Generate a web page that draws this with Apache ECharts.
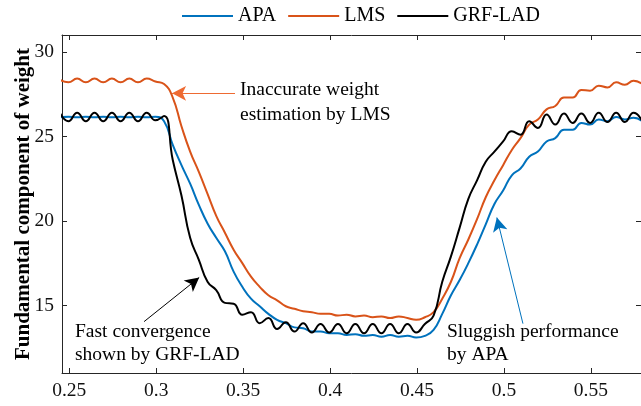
<!DOCTYPE html>
<html>
<head>
<meta charset="utf-8">
<script src="https://cdn.jsdelivr.net/npm/echarts@6/dist/echarts.min.js"></script>
<style>
  html, body { margin: 0; padding: 0; background: #fff; }
  #chart { width: 641px; height: 406px; }
</style>
</head>
<body>
<div id="chart"></div>
<script>
// x samples (s)
const xs = [
  0.2445, 0.2495, 0.2545, 0.2595, 0.2645, 0.2695, 0.2745, 0.2795, 0.2845, 0.2895,
  0.2945, 0.2995, 0.3045, 0.3095, 0.3145, 0.3195, 0.3245, 0.3295, 0.3345, 0.3395,
  0.3445, 0.3495, 0.3545, 0.3595, 0.3645, 0.3695, 0.3745, 0.3795, 0.3845, 0.3895,
  0.3945, 0.3995, 0.4045, 0.4095, 0.4145, 0.4195, 0.4245, 0.4295, 0.4345, 0.4395,
  0.4445, 0.4495, 0.4545, 0.4595, 0.4645, 0.4695, 0.4745, 0.4795, 0.4845, 0.4895,
  0.4945, 0.4995, 0.5045, 0.5095, 0.5145, 0.5195, 0.5245, 0.5295, 0.5345, 0.5395,
  0.5445, 0.5495, 0.5545, 0.5595, 0.5645, 0.5695, 0.5745, 0.5795
]

const apa = [
  26.13, 26.17, 26.13, 26.17, 26.13, 26.17, 26.13, 26.17, 26.13, 26.17,
  26.13, 26.16, 25.9, 24.5, 23.3, 22.2, 20.95, 19.85, 19.0, 18.2,
  17.0, 16.1, 15.4, 14.95, 14.5, 14.15, 13.95, 13.7, 13.65, 13.45,
  13.45, 13.35, 13.35, 13.25, 13.3, 13.2, 13.25, 13.15, 13.25, 13.15,
  13.2, 13.1, 13.2, 13.55, 14.5, 15.6, 16.5, 17.5, 18.6, 19.8,
  21.0, 21.8, 22.7, 23.1, 23.8, 24.1, 24.7, 24.9, 25.4, 25.4,
  25.8, 25.7, 26.0, 25.9, 26.15, 26.0, 26.1, 25.9
]

const lms = [
  28.35, 28.2, 28.42, 28.2, 28.42, 28.2, 28.42, 28.2, 28.42, 28.2,
  28.42, 28.25, 28.1, 27.3, 25.6, 24.1, 22.9, 21.6, 20.3, 19.3,
  18.3, 17.5, 16.7, 16.1, 15.6, 15.3, 14.95, 14.8, 14.65, 14.6,
  14.5, 14.5, 14.4, 14.45, 14.35, 14.4, 14.3, 14.35, 14.25, 14.35,
  14.25, 14.15, 14.3, 14.6, 15.4, 16.4, 17.8, 18.9, 20.1, 21.4,
  22.4, 23.3, 24.2, 24.9, 25.7, 26.0, 26.6, 26.8, 27.3, 27.3,
  27.75, 27.7, 28.0, 27.9, 28.2, 28.05, 28.3, 28.1
]

const grfLad = [
  26.4, 25.9, 26.4, 25.9, 26.4, 25.9, 26.4, 25.9, 26.4, 25.9,
  26.4, 25.95, 26.2, 23.6, 21.5, 19.0, 17.7, 16.4, 15.9, 15.15,
  15.1, 14.45, 14.6, 13.95, 14.25, 13.6, 14.0, 13.45, 13.95, 13.4,
  13.9, 13.4, 13.9, 13.35, 13.9, 13.35, 13.9, 13.35, 13.9, 13.35,
  13.9, 13.4, 13.9, 14.4, 16.4, 17.9, 19.6, 21.3, 22.4, 23.5,
  24.1, 24.7, 25.3, 25.1, 25.9, 25.5, 26.3, 25.7, 26.35, 25.8,
  26.35, 25.8, 26.4, 25.85, 26.4, 25.85, 26.4, 25.9
]

const xTicks = [0.25, 0.3, 0.35, 0.4, 0.45, 0.5, 0.55]
const yTicks = [15, 20, 25, 30]

// annotation arrows: [tail, head] in data units
const lmsArrow = [[0.3453, 27.55], [0.3091, 27.55]]
const grfArrow = [[0.2930, 14.04], [0.3247, 16.65]]
const apaArrow = [[0.5109, 13.92], [0.4959, 20.2]]

const FONT = 'Liberation Serif'
const AXIS_COLOR = '#262626'

const chart = echarts.init(document.getElementById('chart'))

const pairs = (ys) => xs.map((x, i) => [x, ys[i]])

const arrow = (pts, color) => ({
  silent: true,
  symbol: ['none', 'arrow'],
  symbolSize: [11, 14],
  label: { show: false },
  lineStyle: { color: color, width: 1, type: 'solid' },
  data: [[{ coord: pts[0] }, { coord: pts[1] }]]
})

const xCommon = {
  type: 'value',
  min: 0.2458,
  max: 0.5788,
  splitLine: { show: false },
  axisLine: { show: true, lineStyle: { color: AXIS_COLOR, width: 1 } },
  axisTick: { show: true, inside: true, length: 5, customValues: xTicks, lineStyle: { color: AXIS_COLOR } }
}
const yCommon = {
  type: 'value',
  min: 11,
  max: 31,
  splitLine: { show: false },
  axisLine: { show: true, lineStyle: { color: AXIS_COLOR, width: 1 } },
  axisTick: { show: true, inside: true, length: 5, customValues: yTicks, lineStyle: { color: AXIS_COLOR } }
}

chart.setOption({
  animation: false,
  backgroundColor: '#fff',
  grid: { left: 62, right: 0, top: 35, bottom: 33, outerBoundsMode: 'none' },
  legend: {
    left: 182,
    top: 6,
    padding: 0,
    icon: 'rect',
    itemWidth: 51,
    itemHeight: 2,
    itemGap: 12,
    textStyle: { fontFamily: FONT, fontSize: 20, color: '#000' },
    data: ['APA', 'LMS', 'GRF-LAD']
  },
  xAxis: [
    Object.assign({}, xCommon, {
      position: 'bottom',
      axisLabel: {
        customValues: xTicks,
        margin: 8,
        fontFamily: FONT,
        fontSize: 19.5,
        color: '#111'
      }
    }),
    Object.assign({}, xCommon, { position: 'top', axisLabel: { show: false } })
  ],
  yAxis: [
    Object.assign({}, yCommon, {
      position: 'left',
      name: 'Fundamental component of weight',
      nameLocation: 'middle',
      nameGap: 28,
      nameMoveOverlap: false,
      nameTextStyle: { fontFamily: FONT, fontSize: 21, fontWeight: 'bold', color: '#000' },
      axisLabel: {
        customValues: yTicks,
        margin: 8,
        fontFamily: FONT,
        fontSize: 19.5,
        color: '#111'
      }
    }),
    Object.assign({}, yCommon, { position: 'right', axisLabel: { show: false } })
  ],
  series: [
    {
      name: 'APA',
      type: 'line',
      data: pairs(apa),
      symbol: 'none',
      smooth: 0.5,
      color: '#0072BD',
      lineStyle: { width: 2, color: '#0072BD' },
      markLine: arrow(apaArrow, '#0072BD')
    },
    {
      name: 'LMS',
      type: 'line',
      data: pairs(lms),
      symbol: 'none',
      smooth: 0.5,
      color: '#D95319',
      lineStyle: { width: 2, color: '#D95319' },
      markLine: arrow(lmsArrow, '#EE6A32')
    },
    {
      name: 'GRF-LAD',
      type: 'line',
      data: pairs(grfLad),
      symbol: 'none',
      smooth: 0.5,
      color: '#000',
      lineStyle: { width: 2, color: '#000' },
      markLine: arrow(grfArrow, '#000')
    }
  ],
  graphic: [
    {
      type: 'text', left: 240, top: 77,
      style: { text: 'Inaccurate weight\nestimation by LMS', fontFamily: FONT, fontSize: 19.5, lineHeight: 25, fill: '#000' }
    },
    {
      type: 'text', left: 75, top: 320,
      style: { text: 'Fast convergence\nshown by GRF-LAD', fontFamily: FONT, fontSize: 19.5, lineHeight: 23, fill: '#000' }
    },
    {
      type: 'text', left: 447, top: 320,
      style: { text: 'Sluggish performance\nby APA', fontFamily: FONT, fontSize: 19.5, lineHeight: 23, fill: '#000' }
    }
  ]
})
</script>
</body>
</html>
